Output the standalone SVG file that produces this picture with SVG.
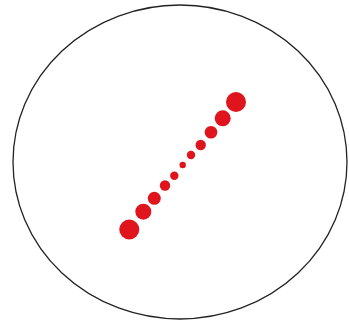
<svg xmlns="http://www.w3.org/2000/svg" width="349" height="321" viewBox="0 0 349 321">
<style>
.outline{fill:none;stroke:#222;stroke-width:1.3}
.dot{fill:#e0141c}
</style>
<rect width="349" height="321" fill="#fff"/>
<g id="boundary"><ellipse class="outline" cx="180" cy="162" rx="167" ry="157"/></g>
<g id="dots">
<circle class="dot" cx="236" cy="102" r="10"/>
<circle class="dot" cx="222.7" cy="118.3" r="8"/>
<circle class="dot" cx="211" cy="132.3" r="6.3"/>
<circle class="dot" cx="200.7" cy="145" r="5.2"/>
<circle class="dot" cx="191" cy="155" r="4.2"/>
<circle class="dot" cx="182.7" cy="165" r="3.2"/>
<circle class="dot" cx="174.3" cy="175.7" r="4.2"/>
<circle class="dot" cx="165" cy="185.5" r="5.2"/>
<circle class="dot" cx="154.3" cy="198.3" r="6.5"/>
<circle class="dot" cx="143.3" cy="211.7" r="8"/>
<circle class="dot" cx="129.3" cy="229.5" r="10"/>
</g>
</svg>
